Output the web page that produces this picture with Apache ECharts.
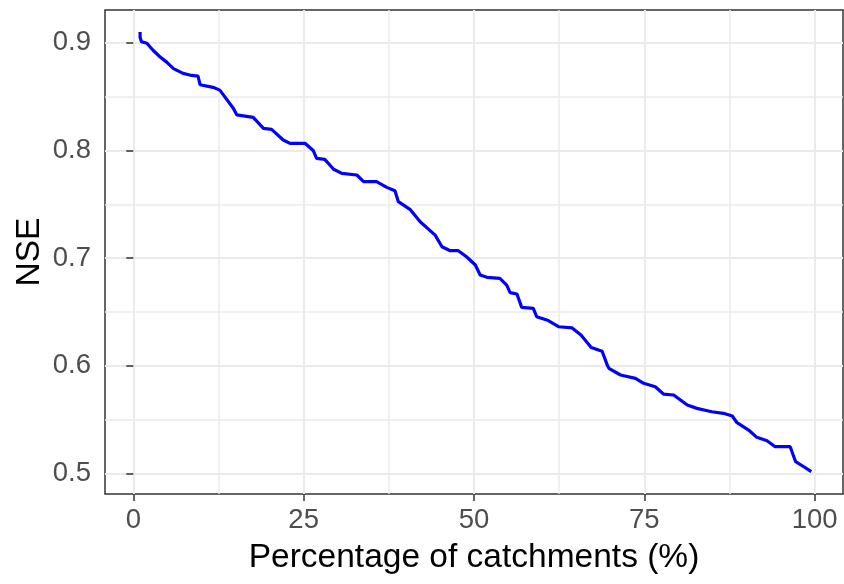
<!DOCTYPE html>
<html>
<head>
<meta charset="utf-8">
<script src="https://cdn.jsdelivr.net/npm/echarts@6/dist/echarts.min.js"></script>
<style>
html,body{margin:0;padding:0;background:#fff;}
#chart{width:844px;height:584px;}
</style>
</head>
<body>
<div id="chart"></div>
<script>
const pct = [1.0, 1.0, 1.2, 2.0, 2.9, 3.9, 4.9, 5.9, 7.3, 8.3, 9.5, 9.8, 11.7, 12.7, 14.7, 15.2, 17.6, 19.1, 20.3, 22.0, 23.0, 25.2, 26.4, 26.9, 28.1, 29.4, 30.6, 32.8, 33.8, 35.7, 37.2, 38.4, 38.9, 40.6, 42.1, 44.3, 45.3, 46.5, 47.7, 48.9, 50.2, 50.9, 51.9, 53.8, 54.8, 55.3, 56.3, 57.0, 58.7, 59.2, 60.9, 62.4, 64.4, 65.7, 67.2, 68.8, 69.6, 69.8, 71.5, 73.7, 74.9, 76.6, 77.8, 79.3, 81.3, 82.7, 84.9, 86.6, 87.9, 88.6, 90.3, 91.5, 93.0, 94.2, 96.4, 97.2, 98.4, 99.5];
const nse = [0.910, 0.905, 0.901, 0.8995, 0.893, 0.887, 0.882, 0.876, 0.8716, 0.870, 0.869, 0.861, 0.8586, 0.856, 0.839, 0.833, 0.8307, 0.8205, 0.8196, 0.8097, 0.8066, 0.8066, 0.800, 0.7927, 0.7917, 0.7825, 0.7787, 0.7772, 0.771, 0.771, 0.7657, 0.7626, 0.7524, 0.7453, 0.7338, 0.7214, 0.7106, 0.7069, 0.7069, 0.7013, 0.6936, 0.6843, 0.6822, 0.6812, 0.675, 0.668, 0.6667, 0.6543, 0.6534, 0.6456, 0.642, 0.6363, 0.6352, 0.6286, 0.617, 0.6135, 0.600, 0.5977, 0.5915, 0.5884, 0.5838, 0.5806, 0.5738, 0.5729, 0.5636, 0.5605, 0.5574, 0.5559, 0.5534, 0.5472, 0.5404, 0.5336, 0.5305, 0.5249, 0.5249, 0.511, 0.5063, 0.5017];
const xTicks = [0, 25, 50, 75, 100];
const xMinor = [12.5, 37.5, 62.5, 87.5];
const yTicks = [0.5, 0.6, 0.7, 0.8, 0.9];
const yMinor = [0.55, 0.65, 0.75, 0.85];

const FONT = '"Liberation Sans", Arial, sans-serif';
const X_MIN = -4.15, X_MAX = 104.15, Y_MIN = 0.481, Y_MAX = 0.9304;

const chart = echarts.init(document.getElementById('chart'), null, {renderer: 'canvas'});
const data = pct.map((x, i) => [x, nse[i]]);

const option = {
  backgroundColor: '#ffffff',
  animation: false,
  grid: {left: 105, right: 1, top: 10, bottom: 90, show: true, borderColor: '#333333', borderWidth: 1.5, backgroundColor: 'transparent', containLabel: false},
  xAxis: [
    {
      type: 'value', min: X_MIN, max: X_MAX,
      name: 'Percentage of catchments (%)', nameLocation: 'middle', nameGap: 47, nameMoveOverlap: false,
      nameTextStyle: {fontFamily: FONT, fontSize: 33.5, color: '#000000'},
      axisLine: {show: false},
      axisTick: {show: true, customValues: xTicks, length: 7, lineStyle: {color: '#333333', width: 1.5}},
      axisLabel: {show: true, customValues: xTicks, margin: 12, fontFamily: FONT, fontSize: 27.5, color: '#4D4D4D', formatter: v => String(Math.round(v))},
      splitLine: {show: true, lineStyle: {color: '#EBEBEB', width: 2}}
    },
    {
      type: 'value', min: X_MIN, max: X_MAX, position: 'bottom',
      axisLine: {show: false},
      axisTick: {show: false, customValues: xMinor},
      axisLabel: {show: false, customValues: xMinor},
      splitLine: {show: true, lineStyle: {color: '#EBEBEB', width: 1.5}}
    }
  ],
  yAxis: [
    {
      type: 'value', min: Y_MIN, max: Y_MAX,
      name: 'NSE', nameLocation: 'middle', nameGap: 58, nameRotate: 90, nameMoveOverlap: false,
      nameTextStyle: {fontFamily: FONT, fontSize: 33.5, color: '#000000'},
      axisLine: {show: false},
      axisTick: {show: true, customValues: yTicks, length: 7, lineStyle: {color: '#333333', width: 1.5}},
      axisLabel: {show: true, customValues: yTicks, margin: 14, fontFamily: FONT, fontSize: 27.5, color: '#4D4D4D', formatter: v => v.toFixed(1)},
      splitLine: {show: true, lineStyle: {color: '#EBEBEB', width: 2}}
    },
    {
      type: 'value', min: Y_MIN, max: Y_MAX, position: 'left',
      axisLine: {show: false},
      axisTick: {show: false, customValues: yMinor},
      axisLabel: {show: false, customValues: yMinor},
      splitLine: {show: true, lineStyle: {color: '#EBEBEB', width: 1.5}}
    }
  ],
  series: [
    {
      type: 'line', xAxisIndex: 0, yAxisIndex: 0,
      data: data, showSymbol: false, symbol: 'none',
      lineStyle: {color: '#0000FF', width: 3.2},
      z: 5
    }
  ]
};
chart.setOption(option);
</script>
</body>
</html>
